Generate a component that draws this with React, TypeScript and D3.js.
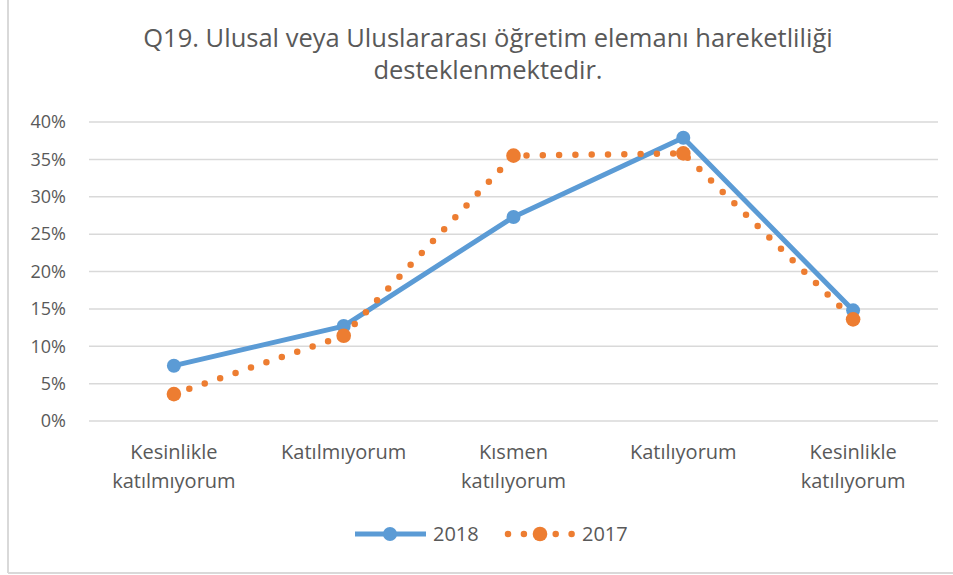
import { useEffect } from 'react';
import * as d3 from 'd3';

const categories = [
  ['Kesinlikle', 'katılmıyorum'],
  ['Katılmıyorum'],
  ['Kısmen', 'katılıyorum'],
  ['Katılıyorum'],
  ['Kesinlikle', 'katılıyorum'],
];
const values2018 = [0.074, 0.127, 0.273, 0.379, 0.148];
const values2017 = [0.036, 0.114, 0.355, 0.358, 0.136];
const yTicks = [0, 0.05, 0.1, 0.15, 0.2, 0.25, 0.3, 0.35, 0.4];
const titleLines = ['Q19. Ulusal veya Uluslararası öğretim elemanı hareketliliği', 'desteklenmektedir.'];

const W = 953;
const H = 575;
const BLUE = '#5B9BD5';
const ORANGE = '#ED7D31';
const TEXT = '#595959';
const FONT = '"Open Sans", "Noto Sans", sans-serif';

export default function App() {
  useEffect(() => {
    document.body.style.margin = '0';
  }, []);

  const keys = categories.map((_, i) => String(i));
  const x = d3.scaleBand().domain(keys).range([89, 938]);
  const cx = (i: number) => (x(String(i)) ?? 0) + x.bandwidth() / 2;
  const y = d3.scaleLinear().domain([0, 0.4]).range([421, 122]);
  const fmt = d3.format('.0%');

  const line = d3.line<number>()
    .x((_, i) => cx(i))
    .y(d => y(d));

  return (
    <svg width={W} height={H} style={{ display: 'block', background: '#fff' }} fontFamily={FONT}>
      {/* chart frame */}
      <line x1={8} x2={8} y1={0} y2={573} stroke="#d9d9d9" strokeWidth={2} />
      <line x1={8} x2={W} y1={573} y2={573} stroke="#d9d9d9" strokeWidth={2} />

      {titleLines.map((t, i) => (
        <text key={i} x={488} y={47 + i * 32} textAnchor="middle" fontSize={25.5} fill={TEXT}>{t}</text>
      ))}

      {yTicks.map(t => (
        <g key={t}>
          <line x1={89} x2={938} y1={y(t)} y2={y(t)} stroke="#d9d9d9" strokeWidth={1.5} />
          <text x={66} y={y(t)} dy="0.35em" textAnchor="end" fontSize={18} fill={TEXT}>{fmt(t)}</text>
        </g>
      ))}

      {categories.map((lines, i) => (
        <text key={i} x={cx(i)} y={459} textAnchor="middle" fontSize={20} fill={TEXT}>
          {lines.map((l, j) => (
            <tspan key={j} x={cx(i)} dy={j === 0 ? 0 : 29}>{l}</tspan>
          ))}
        </text>
      ))}

      {/* 2018 */}
      <path d={line(values2018) ?? ''} fill="none" stroke={BLUE} strokeWidth={5} strokeLinejoin="round" />
      {values2018.map((v, i) => (
        <circle key={i} cx={cx(i)} cy={y(v)} r={7} fill={BLUE} />
      ))}

      {/* 2017 */}
      <path d={line(values2017) ?? ''} fill="none" stroke={ORANGE} strokeWidth={6.5}
        strokeLinecap="round" strokeDasharray="0 16.3" />
      {values2017.map((v, i) => (
        <circle key={i} cx={cx(i)} cy={y(v)} r={7.3} fill={ORANGE} />
      ))}

      {/* legend */}
      <g>
        <line x1={355} x2={426} y1={534} y2={534} stroke={BLUE} strokeWidth={5} />
        <circle cx={390} cy={534} r={7} fill={BLUE} />
        <text x={433} y={534} dy="0.35em" fontSize={20} fill={TEXT}>2018</text>
        <line x1={508} x2={572} y1={534} y2={534} stroke={ORANGE} strokeWidth={6.5}
          strokeLinecap="round" strokeDasharray="0 15.9" />
        <circle cx={540} cy={534} r={7.3} fill={ORANGE} />
        <text x={582} y={534} dy="0.35em" fontSize={20} fill={TEXT}>2017</text>
      </g>
    </svg>
  );
}
